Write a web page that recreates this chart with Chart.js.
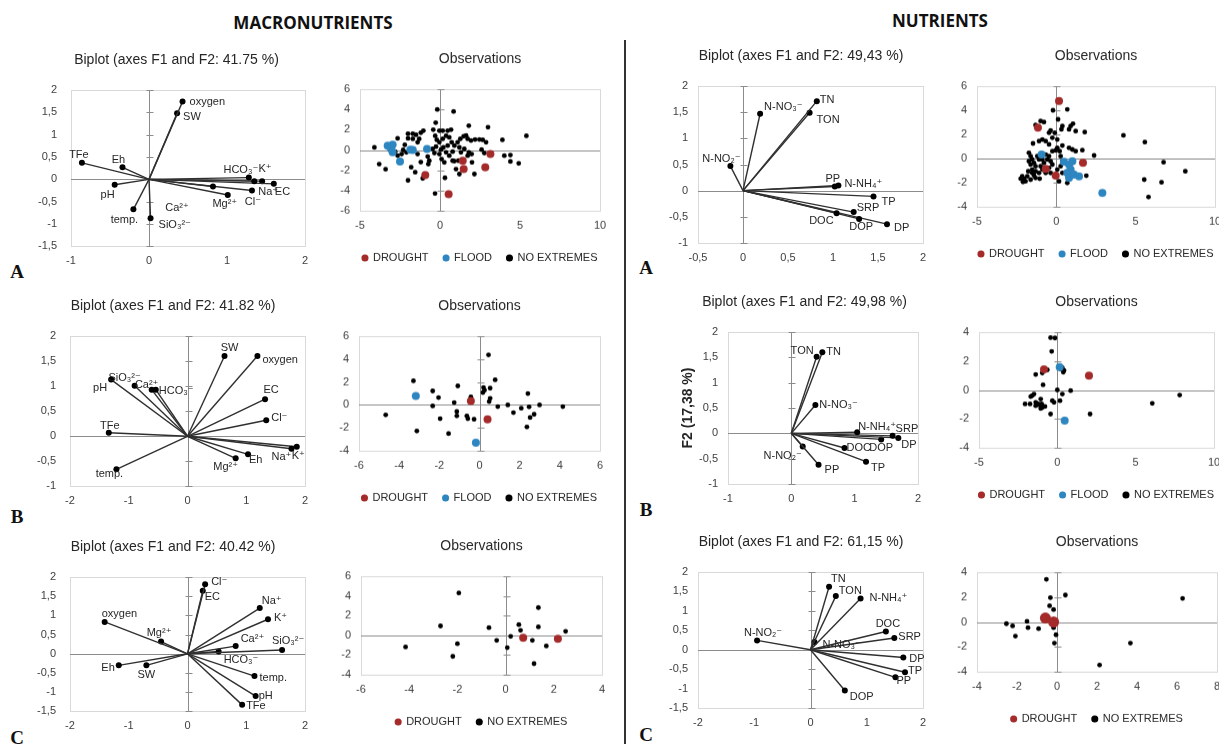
<!DOCTYPE html>
<html>
<head>
<meta charset="utf-8">
<script src="https://cdn.jsdelivr.net/npm/chart.js@4.4.1/dist/chart.umd.min.js"></script>
<style>
  body { margin: 0; width: 1219px; height: 744px; overflow: hidden; background: #fff; position: relative; }
  .box { position: absolute; }
  .hd { position: absolute; font-family: "Open Sans", sans-serif; font-weight: 700; font-size: 17px; color: #111; transform: translate(-50%, -50%); white-space: nowrap; }
  .lt { position: absolute; font-family: "Liberation Serif", serif; font-weight: 700; font-size: 19px; color: #111; transform: translate(-50%, -50%); }
  #divider { position: absolute; left: 624px; top: 40px; width: 1.5px; height: 704px; background: #333; }
</style>
</head>
<body>
<div class="hd" style="left:313px;top:22px">MACRONUTRIENTS</div>
<div class="hd" style="left:940px;top:20px">NUTRIENTS</div>
<div id="divider"></div>
<div class="lt" style="left:17px;top:272px">A</div>
<div class="lt" style="left:17px;top:517px">B</div>
<div class="lt" style="left:17px;top:738px">C</div>
<div class="lt" style="left:646px;top:268px">A</div>
<div class="lt" style="left:646px;top:510px">B</div>
<div class="lt" style="left:646px;top:735px">C</div>

<script>
// ---- macronutrients, row A ----
const macroA_vars = ["oxygen", "SW", "TFe", "Eh", "pH", "temp.", "SiO₃²⁻", "Ca²⁺", "Mg²⁺", "Cl⁻", "Na⁺", "EC", "HCO₃⁻", "K⁺"];
const macroA_f1 = [0.43, 0.36, -0.86, -0.34, -0.44, -0.2, 0.02, 0.82, 1.01, 1.32, 1.35, 1.6, 1.28, 1.45];
const macroA_f2 = [1.74, 1.48, 0.37, 0.27, -0.12, -0.67, -0.87, -0.16, -0.35, -0.25, -0.04, -0.1, 0.04, -0.04];
const macroA_drought = [[-0.92, -2.48], [0.54, -4.37], [1.48, -1.89], [1.42, -1.06], [2.83, -1.72], [3.15, -0.4]];
const macroA_flood = [[-3.27, 0.43], [-2.96, 0.53], [-3.06, 0.1], [-2.96, -0.23], [-2.5, -1.13], [-1.85, 0.03], [-1.7, 0], [-0.81, 0.1]];
const macroA_noext = [
  [-0.17, 4.0], [0.85, 3.8], [-0.27, 2.7], [1.8, 2.4], [3.0, 2.25], [5.4, 1.4], [3.9, 1.0],
  [-4.1, 0.26], [-3.8, -1.4], [-3.4, -1.9], [-2.65, 1.15], [-2.0, 1.6], [-1.7, 1.6], [-1.5, 1.5], [-1.2, 1.7],
  [-1.04, 1.9], [-1.3, 1.1], [-1.4, 0.76], [-1.7, 1.1], [-2.0, 1.15], [-2.2, 0.5], [-2.3, 0], [-2.4, -0.4],
  [-2.65, -0.55], [-2.8, -0.17], [-2.1, -0.23], [-1.4, -0.4], [-1.2, -1.2], [-1.8, -1.7], [-1.55, -2.2],
  [-2.0, -3.0], [-1.08, -2.8], [-0.77, -0.65], [-0.67, -1.06], [-0.73, -1.4],
  [-0.42, 2.0], [-0.04, 1.9], [0.17, 1.9], [0.48, 1.9], [0.69, 2.0], [-0.3, 1.4], [-0.2, 1.0], [-0.04, 0.76],
  [0.17, 1.1], [0.38, 1.4], [0.58, 1.25], [0.73, 0.76], [0.48, 0.43], [0.21, 0.26], [-0.25, 0.33], [-0.46, 0.1],
  [-0.35, -0.3], [-0.04, -0.4], [0.1, -0.9], [0.27, -1.22], [0.58, -0.56], [0.79, -0.17], [0.9, 0.43],
  [1.1, 0.76], [1.27, 1.1], [1.48, 1.36], [1.63, 1.42], [1.73, 1.1], [1.94, 0.93], [2.19, 1.03], [2.46, 1.03],
  [2.67, 1.0], [2.88, 0.76], [2.6, 0.03], [2.77, -0.3], [1.98, -0.4], [1.8, -0.23], [1.52, 0.1], [1.21, 0.26],
  [1.31, -0.23], [1.73, -0.56], [2.0, -1.22], [2.15, -2.38], [1.21, -2.38], [1.0, -1.89], [0.79, -1.06],
  [1.15, -1.06], [0.31, -2.75], [-0.31, -4.3], [0.9, -1.1], [0.38, -0.23], [0.06, 0.03],
  [4.02, -0.56], [4.4, -0.5], [4.4, -1.13], [4.92, -1.32]
];

// ---- macronutrients, row B ----
const macroB_vars = ["SW", "oxygen", "EC", "Cl⁻", "Na⁺", "K⁺", "Eh", "Mg²⁺", "temp.", "TFe", "pH", "SiO₃²⁻", "Ca²⁺", "HCO₃⁻"];
const macroB_f1 = [0.63, 1.19, 1.32, 1.34, 1.77, 1.86, 1.03, 0.82, -1.21, -1.34, -1.3, -0.9, -0.61, -0.54];
const macroB_f2 = [1.6, 1.6, 0.74, 0.32, -0.25, -0.21, -0.36, -0.44, -0.66, 0.07, 1.13, 1.01, 0.93, 0.93];
const macroB_drought = [[-0.43, 0.35], [0.4, -1.25]];
const macroB_flood = [[-3.17, 0.79], [-0.18, -3.3]];
const macroB_noext = [
  [0.45, 4.37], [-3.29, 2.1], [0.78, 2.19], [-2.33, 1.22], [-1.08, 1.66], [-2.04, 0.64], [-0.43, 0.7],
  [0.2, 1.52], [0.25, 1.28], [0.17, 1.08], [0.53, 1.46], [0.53, 0.58], [0.48, 0.29], [-1.26, 0.2],
  [-2.33, -0.09], [0.91, -0.15], [1.41, 0], [-4.67, -0.87], [-1.96, -1.2], [-1.13, -0.58], [-1.13, -0.96],
  [-0.63, -0.96], [-0.58, -1.2], [-0.27, -1.25], [-3.12, -2.27], [-1.54, -2.5], [1.69, -0.67], [2.08, -0.29],
  [2.41, 0.99], [2.47, -0.17], [2.99, 0], [2.52, -1.1], [2.72, -0.82], [2.36, -1.92], [4.15, -0.15]
];

// ---- macronutrients, row C ----
const macroC_vars = ["Cl⁻", "EC", "Na⁺", "K⁺", "SiO₃²⁻", "Ca²⁺", "HCO₃⁻", "temp.", "pH", "TFe", "oxygen", "Mg²⁺", "Eh", "SW"];
const macroC_f1 = [0.3, 0.26, 1.23, 1.37, 1.61, 0.82, 0.53, 1.14, 1.16, 0.93, -1.41, -0.45, -1.17, -0.7];
const macroC_f2 = [1.81, 1.64, 1.19, 0.9, 0.1, 0.2, 0.06, -0.58, -1.1, -1.33, 0.83, 0.32, -0.3, -0.3];
const macroC_drought = [[0.73, -0.24], [2.17, -0.34]];
const macroC_noext = [
  [-1.94, 4.3], [-2.7, 0.95], [-0.69, 0.78], [-4.15, -1.19], [-2.0, -0.85], [-2.19, -2.14], [-0.37, -0.51],
  [0.07, -1.25], [0.21, -0.1], [0.55, 1.08], [0.62, 0.51], [1.36, 2.81], [1.36, 0.85], [1.11, -0.51],
  [1.69, -1.08], [1.18, -2.88], [2.49, 0.41]
];

// ---- nutrients, row A ----
const nutA_vars = ["TN", "TON", "N-NO₃⁻", "N-NO₂⁻", "PP", "N-NH₄⁺", "TP", "SRP", "DOC", "DOP", "DP"];
const nutA_f1 = [0.82, 0.74, 0.19, -0.14, 1.02, 1.06, 1.45, 1.23, 1.04, 1.29, 1.6];
const nutA_f2 = [1.71, 1.49, 1.47, 0.47, 0.08, 0.1, -0.11, -0.41, -0.43, -0.54, -0.64];
const nutA_drought = [[0.17, 4.78], [-1.16, 2.56], [1.68, -0.36], [-0.04, -1.42], [-0.67, -0.86]];
const nutA_flood = [[-0.93, 0.33], [0.48, -0.28], [0.8, -0.5], [1.01, -0.22], [0.9, -0.92], [0.8, -1.6], [1.12, -1.33], [1.43, -1.47], [2.9, -2.86], [0.69, -1.19]];
const nutA_noext = [
  [4.23, 1.92], [5.58, 1.36], [6.76, -0.31], [8.13, -1.06], [5.54, -1.75], [6.63, -1.97], [5.81, -3.19],
  [-0.21, 4.0], [0.69, 4.08], [0.11, 3.25], [-1.31, 2.78], [-0.99, 3.11], [-0.78, 3.03], [0.38, 2.69],
  [0.32, 2.42], [-0.36, 2.33], [-0.46, 2.14], [-0.1, 2.14], [0.8, 2.42], [1.05, 2.89], [0.9, 2.69],
  [1.22, 2.28], [1.79, 2.19], [-0.25, 1.72], [0.06, 1.58], [-0.88, 1.58], [-1.09, 1.44], [-1.47, 1.25],
  [-0.67, 1.44], [-0.46, 1.17], [0.06, 0.89], [0.21, 0.61], [-0.04, 0.67], [0.38, 1.08], [0.8, 0.89],
  [1.01, 0.75], [1.22, 0.61], [1.64, 0.69], [2.38, 0.25],
  [-1.73, 0.47], [-1.62, 0.19], [-1.52, -0.08], [-1.73, -0.22], [-1.62, -0.5], [-1.41, -0.36], [-1.31, -0.64],
  [-1.52, -0.92], [-1.31, -1.06], [-1.09, -1.19], [-0.88, -0.92], [-0.99, -0.64], [-0.78, -0.36], [-0.57, -0.08],
  [-0.46, 0.19], [-0.36, -0.22], [-0.25, -0.5], [-0.46, -0.78], [-0.36, -1.19], [-0.67, -1.19], [-1.05, -1.67],
  [-1.41, -1.39], [-1.2, 0.19], [-1.09, -0.08], [-0.88, -0.08], [-0.67, 0.33], [-0.25, 0.61], [0.27, 0.19],
  [0.38, -0.22], [0.27, -0.64], [0.06, -0.92], [0.38, -1.19], [0.69, -2.03], [0.17, -1.89], [1.89, -1.42],
  [-2.15, -1.47], [-2.25, -1.67], [-2.04, -1.67], [-1.94, -1.89], [-2.1, -1.94], [-1.83, -1.47], [-1.77, -1.06],
  [-1.52, -1.19], [-1.31, -1.61], [-1.62, -1.75]
];

// ---- nutrients, row B ----
const nutB_vars = ["TON", "TN", "N-NO₃⁻", "N-NH₄⁺", "SRP", "DP", "DOP", "DOC", "TP", "PP", "N-NO₂⁻"];
const nutB_f1 = [0.4, 0.49, 0.38, 1.04, 1.6, 1.69, 1.42, 0.84, 1.18, 0.43, 0.18];
const nutB_f2 = [1.51, 1.6, 0.56, 0.02, -0.05, -0.09, -0.12, -0.29, -0.56, -0.62, -0.26];
const nutB_drought = [[-0.85, 1.42], [2.02, 1.0]];
const nutB_flood = [[0.15, 1.58], [0.47, -2.13]];
const nutB_noext = [
  [-0.43, 3.62], [-0.15, 3.6], [-0.36, 2.67], [-0.96, 1.18], [-1.38, 1.07], [-0.64, 1.39], [0.32, 1.53],
  [0.43, 1.35], [0.38, 1.23], [0.21, 1.46], [-0.91, 0.35], [0, 0], [0.85, -0.05], [0.32, -0.28],
  [0.17, -0.74], [-0.21, -0.86], [-0.32, -0.74], [-2.06, -0.97], [-1.74, -0.97], [-1.6, -0.39], [-1.49, -0.28],
  [-1.7, -0.46], [-1.38, -0.86], [-1.38, -1.09], [-1.06, -0.63], [-1.0, -0.97], [-0.96, -1.21], [-0.79, -1.14],
  [-1.06, -1.28], [-1.17, -1.02], [-0.43, -1.67], [2.09, -1.67], [6.06, -0.93], [7.81, -0.35], [-1.21, -0.97]
];

// ---- nutrients, row C ----
const nutC_vars = ["TN", "TON", "N-NH₄⁺", "DOC", "SRP", "N-NO₃⁻", "N-NO₂⁻", "DP", "TP", "PP", "DOP"];
const nutC_f1 = [0.33, 0.45, 0.89, 1.34, 1.49, 0.07, -0.95, 1.65, 1.68, 1.51, 0.61];
const nutC_f2 = [1.62, 1.38, 1.32, 0.47, 0.3, 0.2, 0.24, -0.2, -0.58, -0.71, -1.05];
const nutC_drought = [[-0.58, 0.32], [-0.17, 0.0]];
const nutC_noext = [
  [-0.53, 3.43], [0.42, 2.16], [-0.33, 1.95], [-0.37, 1.3], [-0.17, 1.0], [-2.53, -0.14], [-2.22, -0.32],
  [-2.08, -1.14], [-1.5, 0.05], [-1.45, -0.46], [-0.92, -0.54], [-0.17, -0.46], [-0.05, -1.03], [-0.13, -1.7],
  [2.13, -3.46], [3.67, -1.7], [6.28, 1.89]
];

// label offsets for the biplot vectors: [dx, dy, align]
const macroA_lab = [[7,0,"l"],[6,4,"l"],[-3,-8,"c"],[-4,-7,"c"],[0,10,"r"],[-9,11,"c"],[8,7,"l"],[-36,21,"c"],[-3,9,"c"],[1,11,"c"],[4,11,"l"],[1,8,"l"],[-8,-8,"c"],[3,-12,"c"]];
const macroB_lab = [[5,-8,"c"],[5,4,"l"],[6,-9,"c"],[5,-2,"l"],[-10,8,"c"],[-5,9,"l"],[1,6,"l"],[-10,9,"c"],[-7,5,"c"],[1,-7,"c"],[-4,8,"r"],[-10,-8,"c"],[-5,-5,"c"],[3,1,"l"]];
const macroC_lab = [[6,-2,"l"],[2,6,"l"],[2,-7,"l"],[6,-1,"l"],[6,-9,"c"],[5,-7,"l"],[5,8,"l"],[5,2,"l"],[3,0,"l"],[4,1,"l"],[-3,-8,"l"],[-2,-9,"c"],[-4,3,"r"],[0,10,"c"]];
const nutA_lab = [[3,-1,"l"],[7,7,"l"],[4,-7,"l"],[-9,-7,"c"],[-2,-8,"c"],[6,-1,"l"],[8,6,"l"],[3,-4,"l"],[-3,8,"r"],[2,8,"c"],[7,4,"l"]];
const nutB_lab = [[-3,-6,"r"],[4,0,"l"],[4,0,"l"],[1,-5,"l"],[3,-7,"l"],[3,7,"l"],[0,9,"c"],[2,0,"l"],[5,6,"l"],[6,5,"l"],[-1,9,"r"]];
const nutC_lab = [[2,-8,"l"],[3,-5,"l"],[9,0,"l"],[2,-7,"c"],[4,-1,"l"],[8,3,"l"],[6,-7,"c"],[6,1,"l"],[3,-1,"l"],[1,4,"l"],[5,6,"l"]];

const RED = "#a52a2a";
const BLUE = "#2e86c1";
const TXT = "#262626";
const FONT = '"Liberation Sans", "DejaVu Sans", Arial, sans-serif';
const TITLE_H = 38;

Chart.defaults.font.family = FONT;
Chart.defaults.color = "#404040";

// Excel-like frame: light box, zero axes with small cross ticks on the vertical one
const zeroAxes = {
  id: "zeroAxes",
  beforeDatasetsDraw(chart) {
    const { ctx, chartArea: a, scales: { x, y } } = chart;
    const x0 = Math.round(x.getPixelForValue(0)) + 0.5;
    const y0 = Math.round(y.getPixelForValue(0)) + 0.5;
    ctx.save();
    ctx.lineWidth = 1;
    ctx.strokeStyle = "#d9d9d9";
    ctx.strokeRect(Math.round(a.left) + 0.5, Math.round(a.top) + 0.5, Math.round(a.width), Math.round(a.height));
    ctx.strokeStyle = "#8c8c8c";
    ctx.beginPath();
    ctx.moveTo(x0, a.top); ctx.lineTo(x0, a.bottom);
    ctx.moveTo(a.left, y0); ctx.lineTo(a.right, y0);
    y.ticks.forEach(t => {
      const py = Math.round(y.getPixelForValue(t.value)) + 0.5;
      ctx.moveTo(x0 - 3, py); ctx.lineTo(x0 + 4, py);
    });
    ctx.stroke();
    ctx.restore();
  }
};

// names next to the ends of the biplot vectors
const vecLabels = {
  id: "vecLabels",
  afterDatasetsDraw(chart, args, opts) {
    if (!opts.names) return;
    const { ctx, scales: { x, y } } = chart;
    ctx.save();
    ctx.font = "11px " + FONT;
    ctx.fillStyle = TXT;
    ctx.textBaseline = "middle";
    opts.names.forEach((n, i) => {
      const [dx, dy, al] = opts.offsets[i];
      ctx.textAlign = al === "l" ? "left" : al === "r" ? "right" : "center";
      ctx.fillText(n, x.getPixelForValue(opts.f1[i]) + dx, y.getPixelForValue(opts.f2[i]) + dy);
    });
    ctx.restore();
  }
};

const fmt = v => String(v).replace(".", ",");
const pts = arr => arr.map(([x, y]) => ({ x, y }));

function axes(xr, yr, yw, xh, ypad, yTitle, rightW) {
  return {
    x: {
      type: "linear", min: xr[0], max: xr[1],
      ticks: { stepSize: xr[2], callback: fmt, padding: 8, font: { size: 11 }, color: "#404040", maxRotation: 0, autoSkip: false },
      grid: { display: false, drawTicks: false }, border: { display: false },
      afterFit: sc => { sc.height = xh; }
    },
    y: {
      type: "linear", min: yr[0], max: yr[1],
      ticks: { stepSize: yr[2], callback: fmt, padding: ypad, font: { size: 11 }, color: "#404040", autoSkip: false },
      grid: { display: false, drawTicks: false }, border: { display: false },
      title: yTitle ? { display: true, text: yTitle, font: { size: 14, weight: "bold" }, color: TXT, padding: 0 } : { display: false },
      afterFit: sc => { sc.width = yw; }
    },
    // empty right-hand axis: reserves room on the right and shifts the centred title/legend
    y2: {
      type: "linear", position: "right", min: yr[0], max: yr[1],
      ticks: { display: false }, grid: { display: false, drawTicks: false }, border: { display: false },
      afterFit: sc => { sc.width = rightW; }
    }
  };
}

function makeBox(rect, yw, rw, xh, lh) {
  const [l, t, r, b] = rect;
  const div = document.createElement("div");
  div.className = "box";
  div.style.left = (l - yw) + "px";
  div.style.top = (t - TITLE_H) + "px";
  div.style.width = (r - l + yw + rw) + "px";
  div.style.height = (b - t + TITLE_H + xh + lh) + "px";
  const cv = document.createElement("canvas");
  div.appendChild(cv);
  document.body.appendChild(div);
  return cv;
}

function titleOpt(text) {
  return { display: true, text, font: { size: 14, weight: "normal" }, color: TXT, padding: { top: 0, bottom: TITLE_H - 16.8 } };
}

function biplot(p) {
  const yw = p.yw || 45, xh = 20, rw = p.rw;
  const cv = makeBox(p.rect, yw, rw, xh, 0);
  const datasets = p.vars.map((v, i) => ({
    label: v,
    data: [{ x: 0, y: 0 }, { x: p.f1[i], y: p.f2[i] }],
    showLine: true,
    borderColor: "#303030",
    borderWidth: 1.4,
    pointRadius: [0, 3],
    pointBackgroundColor: "#000",
    pointBorderWidth: 0
  }));
  new Chart(cv, {
    type: "scatter",
    data: { datasets },
    options: {
      responsive: true, maintainAspectRatio: false, animation: false,
      layout: { padding: 0 },
      scales: axes(p.x, p.y, yw, xh, p.ypad, p.yTitle, rw),
      plugins: {
        title: titleOpt(p.title),
        legend: { display: false },
        tooltip: { enabled: false },
        vecLabels: { names: p.vars, f1: p.f1, f2: p.f2, offsets: p.lab }
      }
    },
    plugins: [zeroAxes, vecLabels]
  });
}

function observations(p) {
  const yw = 30, xh = 26.5, lh = 36;
  const cv = makeBox(p.rect, yw, yw, xh, lh);
  const datasets = [{
    label: "DROUGHT", data: pts(p.drought), backgroundColor: RED, borderColor: RED,
    pointRadius: p.bigRed || 4, pointBorderWidth: 0
  }];
  if (p.flood) datasets.push({
    label: "FLOOD", data: pts(p.flood), backgroundColor: BLUE, borderColor: BLUE,
    pointRadius: 4, pointBorderWidth: 0
  });
  datasets.push({
    label: "NO EXTREMES", data: pts(p.noext), backgroundColor: "#000", borderColor: "#000",
    pointRadius: 2.4, pointBorderWidth: 0
  });
  new Chart(cv, {
    type: "scatter",
    data: { datasets },
    options: {
      responsive: true, maintainAspectRatio: false, animation: false,
      layout: { padding: 0 },
      scales: axes(p.x, p.y, yw, xh, 10, null, yw),
      plugins: {
        title: titleOpt("Observations"),
        legend: {
          display: true, position: "bottom",
          labels: { usePointStyle: true, pointStyle: "circle", boxWidth: 5, boxHeight: 5, padding: 15, font: { size: 11 }, color: TXT }
        },
        tooltip: { enabled: false }
      }
    },
    plugins: [zeroAxes]
  });
}

// chart-area rectangles [left, top, right, bottom] in page pixels
biplot({ rect: [71, 90, 305, 247], x: [-1, 2, 1], y: [-1.5, 2, 0.5], ypad: 14, rw: 22,
  title: "Biplot (axes F1 and F2: 41.75 %)", vars: macroA_vars, f1: macroA_f1, f2: macroA_f2, lab: macroA_lab });
observations({ rect: [360, 89, 600, 210], x: [-5, 10, 5], y: [-6, 6, 2],
  drought: macroA_drought, flood: macroA_flood, noext: macroA_noext });

biplot({ rect: [70, 336, 305, 487], x: [-2, 2, 1], y: [-1, 2, 0.5], ypad: 14, rw: 16,
  title: "Biplot (axes F1 and F2: 41.82 %)", vars: macroB_vars, f1: macroB_f1, f2: macroB_f2, lab: macroB_lab });
observations({ rect: [359, 336, 600, 450], x: [-6, 6, 2], y: [-4, 6, 2],
  drought: macroB_drought, flood: macroB_flood, noext: macroB_noext });

biplot({ rect: [70, 577, 305, 712], x: [-2, 2, 1], y: [-1.5, 2, 0.5], ypad: 14, rw: 16,
  title: "Biplot (axes F1 and F2: 40.42 %)", vars: macroC_vars, f1: macroC_f1, f2: macroC_f2, lab: macroC_lab });
observations({ rect: [361, 576, 602, 674], x: [-6, 4, 2], y: [-4, 6, 2],
  drought: macroC_drought, noext: macroC_noext });

biplot({ rect: [698, 86, 923, 243], x: [-0.5, 2, 0.5], y: [-1, 2, 0.5], ypad: 10, rw: 26,
  title: "Biplot (axes F1 and F2: 49,43 %)", vars: nutA_vars, f1: nutA_f1, f2: nutA_f2, lab: nutA_lab });
observations({ rect: [977, 86, 1215, 206], x: [-5, 10, 5], y: [-4, 6, 2],
  drought: nutA_drought, flood: nutA_flood, noext: nutA_noext });

biplot({ rect: [728, 332, 923, 484], x: [-1, 2, 1], y: [-1, 2, 0.5], ypad: 10, yw: 48, rw: 6, yTitle: "F2 (17,38 %)",
  title: "Biplot (axes F1 and F2: 49,98 %)", vars: nutB_vars, f1: nutB_f1, f2: nutB_f2, lab: nutB_lab });
observations({ rect: [979, 332, 1214, 447], x: [-5, 10, 5], y: [-4, 4, 2],
  drought: nutB_drought, flood: nutB_flood, noext: nutB_noext });

biplot({ rect: [698, 572, 923, 708], x: [-2, 2, 1], y: [-1.5, 2, 0.5], ypad: 10, rw: 26,
  title: "Biplot (axes F1 and F2: 61,15 %)", vars: nutC_vars, f1: nutC_f1, f2: nutC_f2, lab: nutC_lab });
observations({ rect: [977, 572, 1217, 671], x: [-4, 8, 2], y: [-4, 4, 2], bigRed: 5.5,
  drought: nutC_drought, noext: nutC_noext });
</script>
</body>
</html>
